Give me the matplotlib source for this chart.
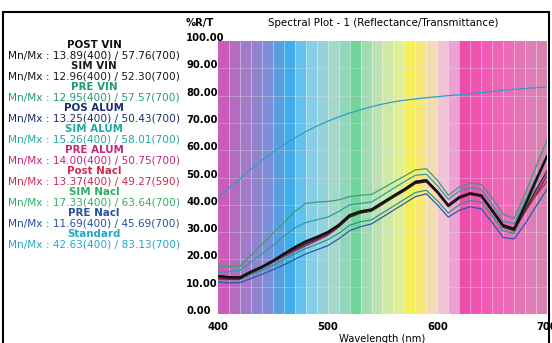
import matplotlib
matplotlib.use("Agg")
import matplotlib.pyplot as plt
from matplotlib.transforms import ScaledTranslation
from matplotlib.patches import Rectangle

# ---------------- data ----------------
wavelengths = list(range(400, 701, 10))

post_vin  = [13.89, 13.5, 13.4, 15.5, 17.3, 19.5, 22.0, 24.5, 26.6, 28.2, 30.0, 32.6, 36.2, 37.6, 38.3,
             40.8, 43.3, 45.7, 48.4, 48.9, 44.8, 39.8, 42.8, 44.2, 43.4, 38.0, 32.5, 31.2, 39.8, 49.0, 57.76]
sim_vin   = [12.96, 12.8, 12.8, 15.0, 16.8, 19.0, 21.5, 23.8, 25.8, 27.5, 29.3, 32.0, 35.5, 37.0, 37.7,
             40.2, 42.7, 45.1, 47.8, 48.4, 44.3, 39.3, 42.3, 43.8, 43.0, 37.5, 31.8, 30.5, 38.0, 45.5, 52.30]
pre_vin   = [12.95, 12.7, 12.8, 14.5, 16.0, 17.8, 20.0, 22.0, 24.0, 25.5, 27.2, 29.5, 32.5, 33.8, 34.5,
             37.0, 39.5, 42.0, 44.5, 45.3, 41.5, 37.0, 40.0, 41.5, 41.0, 36.0, 30.5, 29.5, 38.5, 48.0, 57.57]
pos_alum  = [13.25, 13.0, 13.0, 15.2, 17.0, 19.2, 21.5, 23.5, 25.5, 27.3, 29.3, 32.2, 35.8, 37.2, 37.9,
             40.5, 43.0, 45.4, 48.0, 48.6, 44.5, 39.5, 42.5, 44.0, 43.2, 37.8, 32.0, 30.8, 37.5, 44.0, 50.43]
sim_alum  = [15.26, 15.5, 16.0, 19.0, 22.0, 25.0, 28.5, 31.5, 33.5, 34.5, 35.5, 37.5, 40.0, 40.5, 41.0,
             43.5, 46.0, 48.5, 50.8, 51.2, 47.0, 42.0, 45.0, 46.3, 45.5, 40.0, 34.0, 33.0, 41.5, 50.0, 58.01]
pre_alum  = [14.00, 13.6, 13.5, 15.3, 17.0, 19.0, 21.0, 23.0, 25.0, 26.8, 28.8, 31.8, 35.5, 37.0, 37.8,
             40.3, 42.9, 45.3, 48.0, 48.7, 44.6, 39.6, 42.6, 44.0, 43.2, 37.8, 32.2, 31.0, 37.8, 44.3, 50.75]
post_nacl = [13.37, 13.1, 13.1, 15.3, 17.2, 19.3, 21.6, 23.8, 25.8, 27.6, 29.5, 32.3, 36.0, 37.4, 38.1,
             40.6, 43.1, 45.5, 48.6, 49.27, 45.0, 40.0, 43.0, 44.4, 43.6, 38.2, 32.4, 31.2, 37.5, 43.5, 48.5]
sim_nacl  = [17.33, 17.4, 17.5, 21.5, 25.5, 29.5, 33.5, 37.5, 40.5, 41.0, 41.2, 41.8, 43.0, 43.5, 43.8,
             46.0, 48.3, 50.5, 52.8, 53.2, 49.0, 43.5, 46.5, 48.0, 47.5, 42.5, 36.5, 35.0, 44.0, 54.0, 63.64]
pre_nacl  = [11.69, 11.4, 11.5, 13.0, 14.5, 16.2, 18.0, 20.0, 22.0, 23.5, 25.0, 27.5, 30.5, 32.0, 33.0,
             35.5, 38.0, 40.5, 43.0, 44.0, 40.0, 35.5, 38.0, 39.3, 38.5, 33.5, 28.0, 27.5, 33.0, 39.5, 45.69]
standard  = [42.63, 46.2, 49.5, 53.0, 56.3, 59.3, 62.0, 64.5, 66.8, 68.8, 70.6, 72.2, 73.6, 74.8, 75.9,
             76.9, 77.7, 78.3, 78.8, 79.2, 79.6, 80.0, 80.3, 80.7, 81.1, 81.5, 81.9, 82.3, 82.6, 82.9, 83.13]

legend_names = ["POST VIN", "SIM VIN", "PRE VIN", "POS ALUM", "SIM ALUM",
                "PRE ALUM", "Post Nacl", "SIM Nacl", "PRE Nacl", "Standard"]
legend_stats = ["Mn/Mx : 13.89(400) / 57.76(700)",
                "Mn/Mx : 12.96(400) / 52.30(700)",
                "Mn/Mx : 12.95(400) / 57.57(700)",
                "Mn/Mx : 13.25(400) / 50.43(700)",
                "Mn/Mx : 15.26(400) / 58.01(700)",
                "Mn/Mx : 14.00(400) / 50.75(700)",
                "Mn/Mx : 13.37(400) / 49.27(590)",
                "Mn/Mx : 17.33(400) / 63.64(700)",
                "Mn/Mx : 11.69(400) / 45.69(700)",
                "Mn/Mx : 42.63(400) / 83.13(700)"]
legend_colors = ["#111111", "#1a1a1a", "#1f9a78", "#1b2d6b", "#22a6a2",
                 "#c4257f", "#cf2a4c", "#2fae62", "#24509e", "#22a8c6"]
line_colors = ["#111111", "#3a2a2a", "#2a9a80", "#22306e", "#26a0a6",
               "#b02878", "#b8283e", "#3aa070", "#2a58a8", "#2aa2c4"]
line_widths = [1.7, 1.0, 0.9, 1.0, 0.9, 1.0, 1.0, 0.9, 0.9, 0.9]

x_ticks = [400, 500, 600, 700]
y_ticks = [0, 10, 20, 30, 40, 50, 60, 70, 80, 90, 100]

band_colors = ['#c95cb6', '#b46cc0', '#a27ac8', '#9084d0', '#7c8ed8',
               '#5a9ee2', '#40aeea', '#64c2ee', '#88cee8', '#96d2dc',
               '#a4d8cc', '#92d6bc', '#72d49a', '#a2dcb4', '#bce2b2',
               '#cee8a8', '#e0ee98', '#f4f05a', '#f8e678', '#f4dcb2',
               '#f0c4d4', '#eea2d4', '#f04cae', '#f054b0', '#f05cb4',
               '#ee64b6', '#ec6cb8', '#e674b8', '#e07cb6', '#d882b2']

series = [post_vin, sim_vin, pre_vin, pos_alum, sim_alum,
          pre_alum, post_nacl, sim_nacl, pre_nacl, standard]

# ---------------- figure ----------------
W, H = 552, 343
fig = plt.figure(figsize=(W / 100, H / 100), dpi=100)
fig.patch.set_facecolor("white")

ax = fig.add_axes([218 / W, 1 - 314 / H, (547 - 218) / W, (314 - 41) / H])
ax.set_xlim(400, 700)
ax.set_ylim(0, 100)

for i, c in enumerate(band_colors):
    ax.axvspan(400 + 10 * i, 410 + 10 * i, color=c, lw=0, zorder=0)

for wl in range(410, 700, 10):
    ax.axvline(wl, color="white", lw=0.6, alpha=0.45, zorder=1)
for v in range(10, 100, 10):
    ax.axhline(v, color="#dddddd", lw=0.5, alpha=0.5, zorder=1)

order = [9, 7, 4, 2, 8, 3, 5, 6, 1, 0]
for k in order:
    ax.plot(wavelengths, series[k], color=line_colors[k], lw=line_widths[k],
            zorder=3 + (k == 0), solid_joinstyle="round")

for s in ax.spines.values():
    s.set_visible(False)

ax.set_xticks(x_ticks)
ax.set_xticklabels([str(v) for v in x_ticks], fontsize=7.2, fontweight="bold",
                   family="DejaVu Sans")
ax.set_yticks(y_ticks)
ax.set_yticklabels([f"{v:.2f}" for v in y_ticks], fontsize=7.2, fontweight="bold",
                   family="DejaVu Sans")
ax.tick_params(axis="x", length=0, pad=6)
ax.tick_params(axis="y", length=0, pad=23)
shift = ScaledTranslation(0, 4 / 100, fig.dpi_scale_trans)
for t in ax.yaxis.get_major_ticks():
    t.label1.set_horizontalalignment("left")
    t.label1.set_transform(t.label1.get_transform() + shift)
ax.set_xlabel("Wavelength (nm)", fontsize=7.2, labelpad=1, family="DejaVu Sans")

fig.text(186 / W, 1 - 23 / H, "%R/T", fontsize=7.2, fontweight="bold",
         ha="left", va="center", family="DejaVu Sans")
fig.text(383 / W, 1 - 23 / H, "Spectral Plot - 1 (Reflectance/Transmittance)",
         fontsize=7.4, ha="center", va="center", family="DejaVu Sans")

# legend block
for i, (name, stat, col) in enumerate(zip(legend_names, legend_stats, legend_colors)):
    y0 = 45 + 21 * i
    fig.text(94 / W, 1 - y0 / H, name, fontsize=7.4, fontweight="bold",
             color=col, ha="center", va="center", family="DejaVu Sans")
    fig.text(94 / W, 1 - (y0 + 10.5) / H, stat, fontsize=7.6,
             color=col, ha="center", va="center", family="DejaVu Sans")

# outer frame
fig.patches.append(Rectangle((3 / W, -0.05), (549 - 3) / W, 1.05 - 12 / H,
                             transform=fig.transFigure, fill=False,
                             edgecolor="black", lw=1.5))

fig.savefig("out.png", dpi=100)
